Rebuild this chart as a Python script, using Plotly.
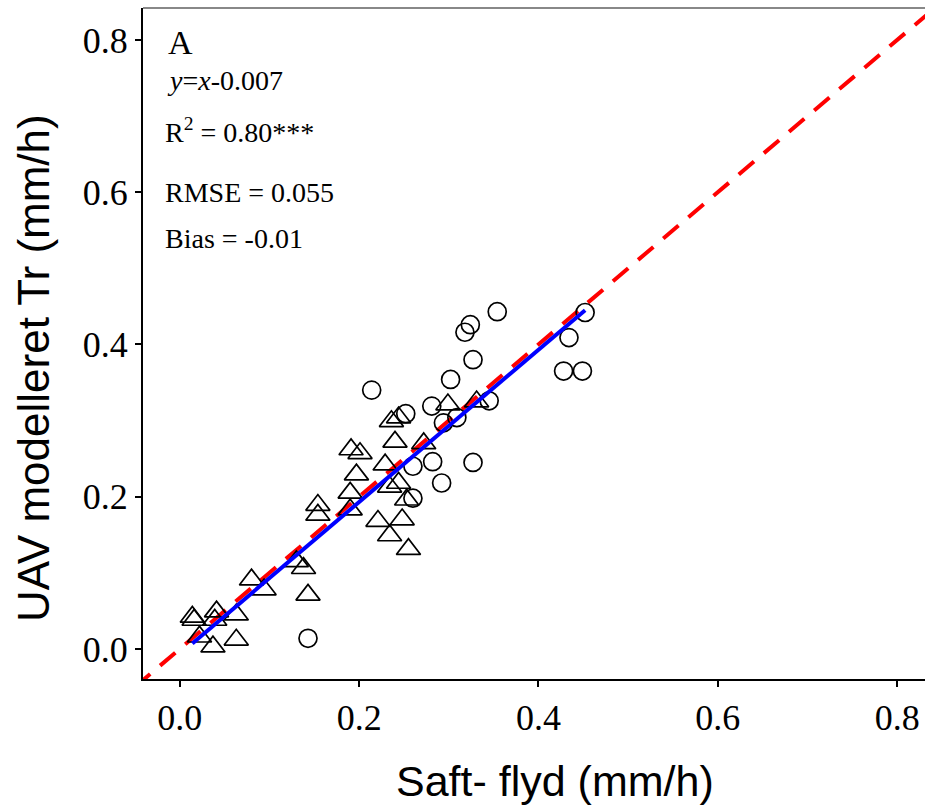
import plotly.graph_objects as go

# Circles (group 1)
circle_x = [0.354, 0.324, 0.318, 0.452, 0.434, 0.428, 0.449, 0.327, 0.302, 0.214,
            0.281, 0.345, 0.252, 0.294, 0.309, 0.260, 0.282, 0.327, 0.292, 0.260, 0.143]
circle_y = [0.443, 0.426, 0.416, 0.442, 0.409, 0.365, 0.365, 0.380, 0.354, 0.340,
            0.319, 0.326, 0.309, 0.297, 0.304, 0.240, 0.246, 0.245, 0.218, 0.198, 0.014]

# Triangles (group 2)
tri_x = [0.236, 0.244, 0.240, 0.191, 0.201, 0.229, 0.197, 0.272, 0.299, 0.331,
         0.190, 0.234, 0.244, 0.253, 0.154, 0.154, 0.130, 0.138, 0.143, 0.080,
         0.094, 0.014, 0.016, 0.041, 0.039, 0.063, 0.022, 0.037, 0.063, 0.221,
         0.234, 0.248, 0.255, 0.190]
tri_y = [0.299, 0.304, 0.272, 0.262, 0.257, 0.242, 0.229, 0.270, 0.321, 0.325,
         0.205, 0.213, 0.218, 0.196, 0.189, 0.176, 0.115, 0.106, 0.071, 0.091,
         0.078, 0.042, 0.038, 0.049, 0.038, 0.045, 0.016, 0.003, 0.012, 0.168,
         0.149, 0.170, 0.131, 0.183]

# 1:1 line and fitted line (y = x - 0.007)
one_to_one = [-0.05, 0.9]
fit_x = [0.014, 0.452]
fit_intercept = -0.007
fit_y = [v + fit_intercept for v in fit_x]

x_ticks = [0.0, 0.2, 0.4, 0.6, 0.8]
y_ticks = [0.0, 0.2, 0.4, 0.6, 0.8]

serif = "Liberation Serif"
sans = "Liberation Sans"

FIG_W, FIG_H = 925, 809
PLOT_TOP, PLOT_BOTTOM, PLOT_LEFT = 8, 679, 143

fig = go.Figure()
fig.add_trace(go.Scatter(x=one_to_one, y=one_to_one, mode="lines",
                         line=dict(color="#ff0000", width=4, dash="20px,13px"),
                         hoverinfo="skip"))
fig.add_trace(go.Scatter(x=circle_x, y=circle_y, mode="markers",
                         marker=dict(symbol="circle-open", size=18,
                                     line=dict(color="black", width=1.7), color="black")))
fig.add_trace(go.Scatter(x=tri_x, y=tri_y, mode="markers",
                         marker=dict(symbol="triangle-up-open", size=21,
                                     line=dict(color="black", width=1.7), color="black")))
fig.add_trace(go.Scatter(x=fit_x, y=fit_y, mode="lines",
                         line=dict(color="#0000ff", width=4)))

fig.update_layout(
    width=FIG_W, height=FIG_H,
    margin=dict(l=PLOT_LEFT, r=0, t=PLOT_TOP, b=FIG_H - PLOT_BOTTOM, autoexpand=False),
    paper_bgcolor="white", plot_bgcolor="white",
    showlegend=False,
    xaxis=dict(range=[-0.041, 0.831], tickvals=x_ticks, ticktext=["%.1f" % v for v in x_ticks],
               automargin=False,
               showgrid=False, zeroline=False, showline=True, linecolor="black", linewidth=2,
               ticks="outside", ticklen=6, tickwidth=1.5, tickcolor="black",
               tickfont=dict(family=serif, size=36, color="black")),
    yaxis=dict(range=[-0.0395, 0.842], tickvals=y_ticks, ticktext=["%.1f" % v for v in y_ticks],
               automargin=False,
               showgrid=False, zeroline=False, showline=True, linecolor="black", linewidth=2,
               ticks="outside", ticklen=6, tickwidth=1.5, tickcolor="black",
               tickfont=dict(family=serif, size=36, color="black")),
)

# top border
fig.add_shape(type="line", xref="paper", yref="paper", x0=0, x1=1, y0=1, y1=1,
              line=dict(color="#888888", width=2))

H = PLOT_BOTTOM - PLOT_TOP
W = FIG_W - PLOT_LEFT


def px_x(page_x):
    return (page_x - PLOT_LEFT) / W


def px_y(page_y):
    return 1 - (page_y - PLOT_TOP) / H


# axis titles
fig.add_annotation(text="Saft- flyd (mm/h)", xref="paper", yref="paper",
                   x=px_x(555), y=px_y(781),
                   xanchor="center", yanchor="middle", showarrow=False,
                   font=dict(family=sans, size=43, color="black"))
fig.add_annotation(text="UAV modelleret Tr (mm/h)", xref="paper", yref="paper",
                   x=px_x(33), y=px_y(368), textangle=-90,
                   xanchor="center", yanchor="middle", showarrow=False,
                   font=dict(family=sans, size=44, color="black"))

ann = [
    ("A", 166, 42, 34),
    ("<i>y</i>=<i>x</i>-0.007", 165, 80, 28),
    ("R<sup>2</sup> = 0.80***", 163, 130, 28),
    ("RMSE = 0.055", 163, 192, 28),
    ("Bias = -0.01", 163, 238, 28),
]
for text, xpix, ypix, size in ann:
    fig.add_annotation(text=text, xref="paper", yref="paper",
                       x=px_x(xpix), y=px_y(ypix),
                       xanchor="left", yanchor="middle", showarrow=False,
                       font=dict(family=serif, size=size, color="black"))

fig.write_html("out.html", config={"displayModeBar": False},
               post_script="document.body.style.margin='0px';document.body.style.overflow='hidden';")
